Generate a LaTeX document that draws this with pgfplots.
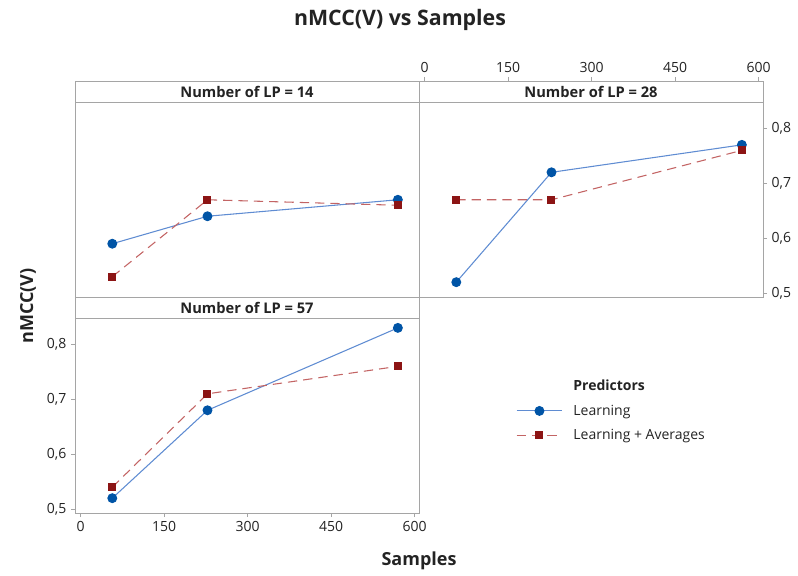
\documentclass[border=0pt]{standalone}
\usepackage{fontspec}
\setmainfont{Open Sans}
\usepackage{pgfplots}
\pgfplotsset{compat=1.18}
\usepackage{pgfplotstable}

\definecolor{framegray}{RGB}{165,165,165}
\definecolor{txt}{RGB}{35,35,35}
\definecolor{bluemark}{RGB}{0,84,166}
\definecolor{blueline}{RGB}{95,140,210}
\definecolor{redmark}{RGB}{140,20,20}
\definecolor{redline}{RGB}{195,100,100}

% nMCC(V) by number of samples, one table per LP panel
\pgfplotstableread{
samples learn avg
57  0.59 0.53
228 0.64 0.67
570 0.67 0.66
}\lpfourteen
\pgfplotstableread{
samples learn avg
57  0.52 0.67
228 0.72 0.67
570 0.77 0.76
}\lptwentyeight
\pgfplotstableread{
samples learn avg
57  0.52 0.54
228 0.68 0.71
570 0.83 0.76
}\lpfiftyseven

\tikzset{striplabel/.style={font=\bfseries\fontsize{11}{13}\selectfont, text=txt}}
\pgfplotsset{
  base/.style={width=258pt, scale only axis, xmin=-10, xmax=608,
    axis line style={framegray}, tick style={framegray, line width=0.6pt},
    tick align=outside, major tick length=3pt,
    ticklabel style={font=\fontsize{10.5}{12}\selectfont, text=txt},
    /pgf/number format/assume math mode=true},
  panel/.style={base, height=146.25pt, ymin=0.493, ymax=0.848,
    xtick={0,150,...,600}, ytick={0.5,0.6,0.7,0.8},
    xtick pos=lower, ytick pos=left,
    yticklabel style={/pgf/number format/.cd, fixed, fixed zerofill, precision=1, use comma}},
  strip/.style={base, height=15.75pt, ymin=0, ymax=1, xtick=\empty, ytick=\empty},
  learn/.style={blueline, line width=0.8pt, mark=*, mark size=3.3pt,
    mark options={fill=bluemark, draw=bluemark}},
  avg/.style={redline, line width=0.8pt, dash pattern=on 7pt off 4.5pt,
    mark=square*, mark size=2.6pt, mark options={fill=redmark, draw=redmark, solid}},
}

\begin{document}
\begin{tikzpicture}
\path (0pt,0pt) rectangle (598.5pt,431.25pt);

% LP = 14
\begin{axis}[panel, at={(56.25pt,208.5pt)}, anchor=south west, xtick=\empty, ytick=\empty]
  \addplot[learn] table[x=samples, y=learn] {\lpfourteen};
  \addplot[avg] table[x=samples, y=avg] {\lpfourteen};
\end{axis}
\begin{axis}[strip, at={(56.25pt,354.75pt)}, anchor=south west]
  \node[striplabel] at (rel axis cs:0.5,0.5) {Number of LP = 14};
\end{axis}

% LP = 28
\begin{axis}[panel, at={(314.25pt,208.5pt)}, anchor=south west, xtick=\empty,
    ytick pos=right, yticklabel pos=right]
  \addplot[learn] table[x=samples, y=learn] {\lptwentyeight};
  \addplot[avg] table[x=samples, y=avg] {\lptwentyeight};
\end{axis}
\begin{axis}[strip, at={(314.25pt,354.75pt)}, anchor=south west,
    xtick={0,150,...,600}, xtick pos=upper, xticklabel pos=upper]
  \node[striplabel] at (rel axis cs:0.5,0.5) {Number of LP = 28};
\end{axis}

% LP = 57
\begin{axis}[panel, at={(56.25pt,46.5pt)}, anchor=south west,
    legend style={at={(axis description cs:1.27,0.71)}, anchor=north west,
      draw=none, fill=none, font=\fontsize{10.5}{12}\selectfont, text=txt,
      row sep=5pt, column sep=6pt},
    legend cell align=left,
    legend image code/.code={\draw[mark repeat=2, mark phase=2]
      plot coordinates {(0cm,0cm) (0.6cm,0cm) (1.2cm,0cm)};}]
  \addlegendimage{empty legend}
  \addlegendentry{\bfseries Predictors}
  \addplot[learn] table[x=samples, y=learn] {\lpfiftyseven};
  \addlegendentry{Learning}
  \addplot[avg] table[x=samples, y=avg] {\lpfiftyseven};
  \addlegendentry{Learning + Averages}
\end{axis}
\begin{axis}[strip, at={(56.25pt,192.75pt)}, anchor=south west]
  \node[striplabel] at (rel axis cs:0.5,0.5) {Number of LP = 57};
\end{axis}

\node[font=\bfseries\fontsize{16}{18}\selectfont, text=txt] at (300pt,416.5pt) {nMCC(V) vs Samples};
\node[font=\bfseries\fontsize{13.5}{16}\selectfont, text=txt, rotate=90] at (21pt,201.75pt) {nMCC(V)};
\node[font=\bfseries\fontsize{13.5}{16}\selectfont, text=txt] at (314.25pt,10.5pt) {Samples};
\end{tikzpicture}
\end{document}
